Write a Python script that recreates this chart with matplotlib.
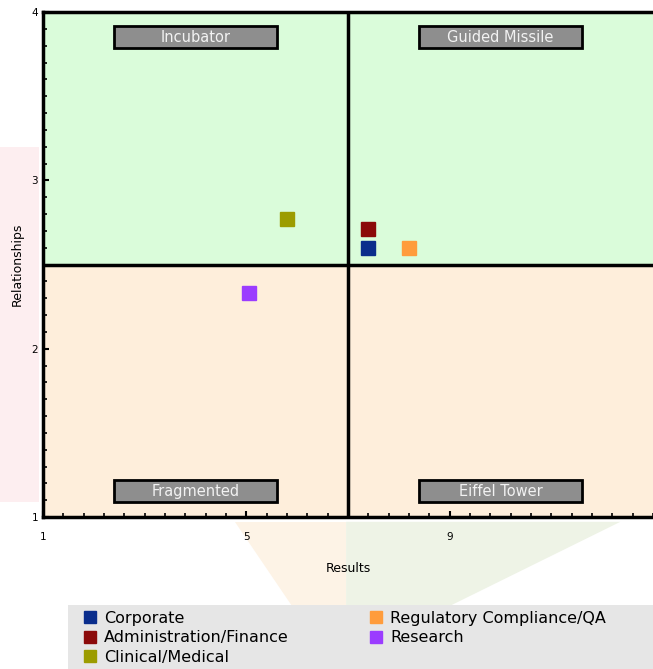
import matplotlib
matplotlib.use("Agg")
import matplotlib.pyplot as plt
from matplotlib.patches import Rectangle, Polygon
from matplotlib.lines import Line2D

# departments plotted on results vs relationships
departments = ["Corporate", "Administration/Finance", "Clinical/Medical",
               "Regulatory Compliance/QA", "Research"]
results = [7.4, 7.4, 5.8, 8.2, 5.05]
relationships = [2.6, 2.71, 2.77, 2.6, 2.33]
colors = ["#0a2d8c", "#8b0a0a", "#9c9c00", "#ff9c3c", "#9b3cff"]

quadrants = ["Incubator", "Guided Missile", "Fragmented", "Eiffel Tower"]
quad_x = [4, 10, 4, 10]
quad_y = [3.85, 3.85, 1.155, 1.155]

x_min, x_max, x_mid = 1, 13, 7
y_min, y_max, y_mid = 1, 4, 2.5

fig = plt.figure(figsize=(6.53, 6.69), dpi=100)
fig.patch.set_facecolor("white")

# faint background shapes
bg = [
    ([[0, 0.25], [0.06, 0.25], [0.06, 0.78], [0, 0.78]], "#fdeef0"),
    ([[0.36, 0.22], [0.53, 0.22], [0.53, 0.09], [0.45, 0.09]], "#fdf3e6"),
    ([[0.53, 0.22], [0.95, 0.22], [0.68, 0.09], [0.53, 0.09]], "#eef3e6"),
]
for pts, fc in bg:
    fig.patches.append(Polygon(pts, closed=True, transform=fig.transFigure,
                               facecolor=fc, edgecolor="none", zorder=-5))

ax = fig.add_axes([0.066, 0.227, 0.934, 0.755])
ax.set_xlim(x_min, x_max)
ax.set_ylim(y_min, y_max)

# quadrant fills
ax.add_patch(Rectangle((x_min, y_mid), x_max - x_min, y_max - y_mid,
                       facecolor="#dafcda", edgecolor="none", zorder=0))
ax.add_patch(Rectangle((x_min, y_min), x_max - x_min, y_mid - y_min,
                       facecolor="#feeedb", edgecolor="none", zorder=0))
ax.axvline(x_mid, color="black", lw=2.5, zorder=2)
ax.axhline(y_mid, color="black", lw=2.5, zorder=2)

# quadrant name boxes
for name, qx, qy in zip(quadrants, quad_x, quad_y):
    ax.add_patch(Rectangle((qx - 1.6, qy - 0.065), 3.2, 0.13,
                           facecolor="#8e8e8e", edgecolor="black", lw=2, zorder=3))
    ax.text(qx, qy, name, ha="center", va="center", color="#f2f2f2",
            fontsize=10.5, zorder=4)

for x, y, c in zip(results, relationships, colors):
    ax.plot(x, y, "s", color=c, markersize=10, zorder=5)

ax.set_xticks([1, 5, 9])
ax.set_xticks([x_min + 0.4 * i for i in range(31)], minor=True)
ax.set_yticks([1, 2, 3, 4])
ax.set_yticks([y_min + 0.1 * i for i in range(31)], minor=True)
ax.tick_params(which="both", direction="in", color="black", labelsize=7.5)
ax.tick_params(which="major", length=4, width=1.5)
ax.tick_params(which="minor", length=3, width=1.2)
ax.tick_params(axis="x", which="major", pad=11)
for s in ax.spines.values():
    s.set_linewidth(2.5)
ax.spines["right"].set_visible(False)

ax.set_xlabel("Results", fontsize=9, labelpad=14)
ax.set_ylabel("Relationships", fontsize=9, labelpad=6)

# legend panel, two columns
fig.patches.append(Rectangle((68 / 653, 0), 1 - 68 / 653, 64 / 669,
                             transform=fig.transFigure, facecolor="#e6e6e6",
                             edgecolor="none", zorder=1))
handles = [Line2D([], [], marker="s", linestyle="none", color=c, markersize=9)
           for c in colors]
for idx, left in [([0, 1, 2], 82), ([3, 4], 368)]:
    leg = fig.legend([handles[i] for i in idx], [departments[i] for i in idx],
                     loc="upper left", bbox_to_anchor=(left / 653, 1 - 611 / 669),
                     fontsize=11.5, frameon=False, handlelength=1,
                     handletextpad=0.4, labelspacing=0.28, borderpad=0,
                     borderaxespad=0)
    leg.set_zorder(2)

fig.savefig("out.png", dpi=100)
